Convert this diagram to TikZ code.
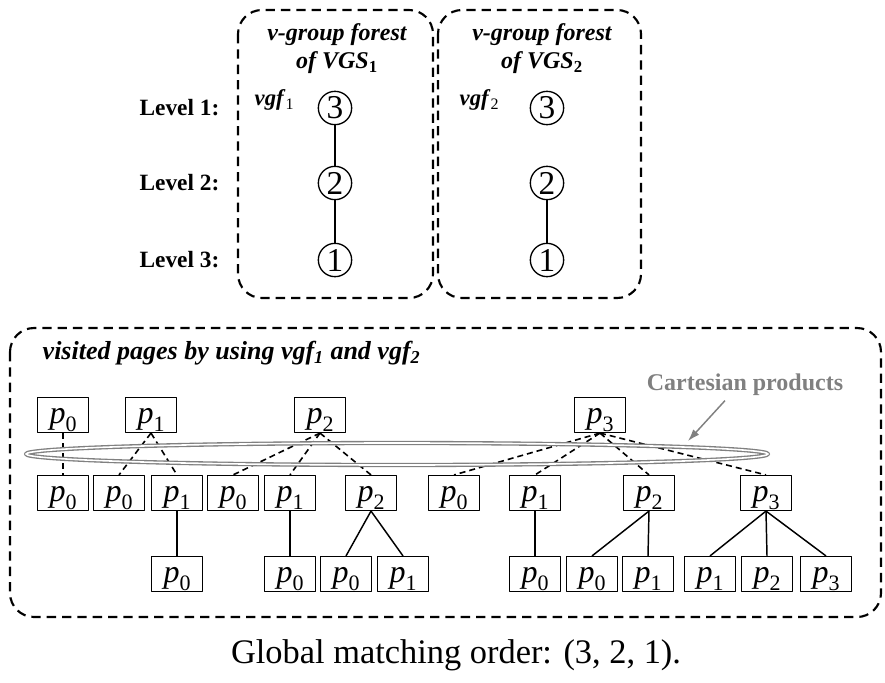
\documentclass[tikz,border=0pt]{standalone}
\usepackage{fontspec}
\setmainfont{Liberation Serif}
\usetikzlibrary{arrows.meta}

\newcommand\pg[1]{\textit{p}\raisebox{-6pt}{\fontsize{16.5}{16.5}\selectfont #1}}
\newcommand\vgf[1]{\textbf{\textit{vgf}}\raisebox{-3pt}{\fontsize{12}{12}\selectfont #1}}

\begin{document}
\begin{tikzpicture}[x=0.75pt,y=-0.75pt,line cap=butt,line join=round,
  grpbox/.style={line width=1.6pt,dash pattern=on 7pt off 4.5pt,rounded corners=18pt},
  lvl/.style={anchor=east,font=\fontsize{17.5}{17.5}\selectfont\bfseries},
  ttl/.style={align=center,font=\fontsize{18}{21}\selectfont\bfseries\itshape},
  vnode/.style={circle,draw,line width=1pt,minimum size=25pt,inner sep=0pt,font=\fontsize{25}{25}\selectfont},
  pbox/.style={draw,line width=1.1pt,minimum width=38pt,minimum height=26pt,inner sep=0pt,
    text height=17pt,text depth=5pt,font=\fontsize{24}{24}\selectfont},
  dashedge/.style={line width=1.2pt,dash pattern=on 4.5pt off 3pt},
  solidedge/.style={line width=1.1pt}]
\path[use as bounding box] (0,0) rectangle (885,682);

% group boxes
\draw[grpbox] (238,10) rectangle (433,298);
\draw[grpbox] (438,10) rectangle (641,298);
\draw[grpbox] (10,328) rectangle (881,617);

\node[ttl] (title1) at (337,49) {v-group forest\\of \textit{VGS}\textsubscript{\upshape 1}};
\node[ttl] (title2) at (542,49) {v-group forest\\of \textit{VGS}\textsubscript{\upshape 2}};

\node[lvl] (lv1) at (224,108) {Level 1:};
\node[lvl] (lv2) at (224,183) {Level 2:};
\node[lvl] (lv3) at (224,260) {Level 3:};

\node[anchor=west,font=\fontsize{17}{17}\selectfont] (vlab1) at (250,100) {\vgf{1}};
\node[anchor=west,font=\fontsize{17}{17}\selectfont] (vlab2) at (455,100) {\vgf{2}};

% v-group forests
\node[vnode] (a3) at (335,108) {3};
\node[vnode] (a2) at (335,183) {2};
\node[vnode] (a1) at (335,260) {1};
\node[vnode] (b3) at (547,108) {3};
\node[vnode] (b2) at (547,183) {2};
\node[vnode] (b1) at (547,260) {1};
\draw[solidedge] (a3) -- (a2);
\draw[solidedge] (a2) -- (a1);
\draw[solidedge] (b2) -- (b1);

\node[anchor=west,font=\fontsize{19.5}{19.5}\selectfont\bfseries\itshape] (vtitle) at (38,353)
  {visited pages by using vgf\textsubscript{1} and vgf\textsubscript{2}};

% visited pages
\foreach \n/\x/\k in {t0/63/0, t1/151/1, t2/320/2, t3/600/3}
  \node[pbox] (\n) at (\x,415) {\pg{\k}};
\foreach \n/\x/\k in {m1/63/0, m2/119/0, m3/177/1, m4/233/0, m5/290/1, m6/371/2,
                      m7/454/0, m8/535/1, m9/649/2, m10/766/3}
  \node[pbox] (\n) at (\x,493) {\pg{\k}};
\foreach \n/\x/\k in {b1/177/0, b2/290/0, b3/346/0, b4/403/1, b5/535/0, b6/592/0,
                      b7/648/1, b8/710/1, b9/767/2, b10/826/3}
  \node[pbox] (\n) at (\x,574) {\pg{\k}};

\foreach \a/\b in {t0/m1, t1/m2, t1/m3, t2/m4, t2/m5, t2/m6, t3/m7, t3/m8, t3/m9, t3/m10}
  \draw[dashedge] (\a.south) -- (\b.north);
\foreach \a/\b in {m3/b1, m5/b2, m6/b3, m6/b4, m8/b5, m9/b6, m9/b7, m10/b8, m10/b9, m10/b10}
  \draw[solidedge] (\a.south) -- (\b.north);

% cartesian products
\draw[gray,double=white,line width=1pt,double distance=1.2pt] (397,454) ellipse [x radius=371,y radius=11];
\node[gray,font=\fontsize{18}{18}\selectfont\bfseries] (cart) at (745,385) {Cartesian products};
\coordinate (cartend) at (688,441);
\draw[gray,line width=1.1pt,-{Latex[length=9pt,width=6pt]}] ([xshift=-15pt]cart.south) -- (cartend);

\node[font=\fontsize{25.8}{25.8}\selectfont] (caption) at (456,655) {Global matching order: (3, 2, 1).};
\end{tikzpicture}
\end{document}
